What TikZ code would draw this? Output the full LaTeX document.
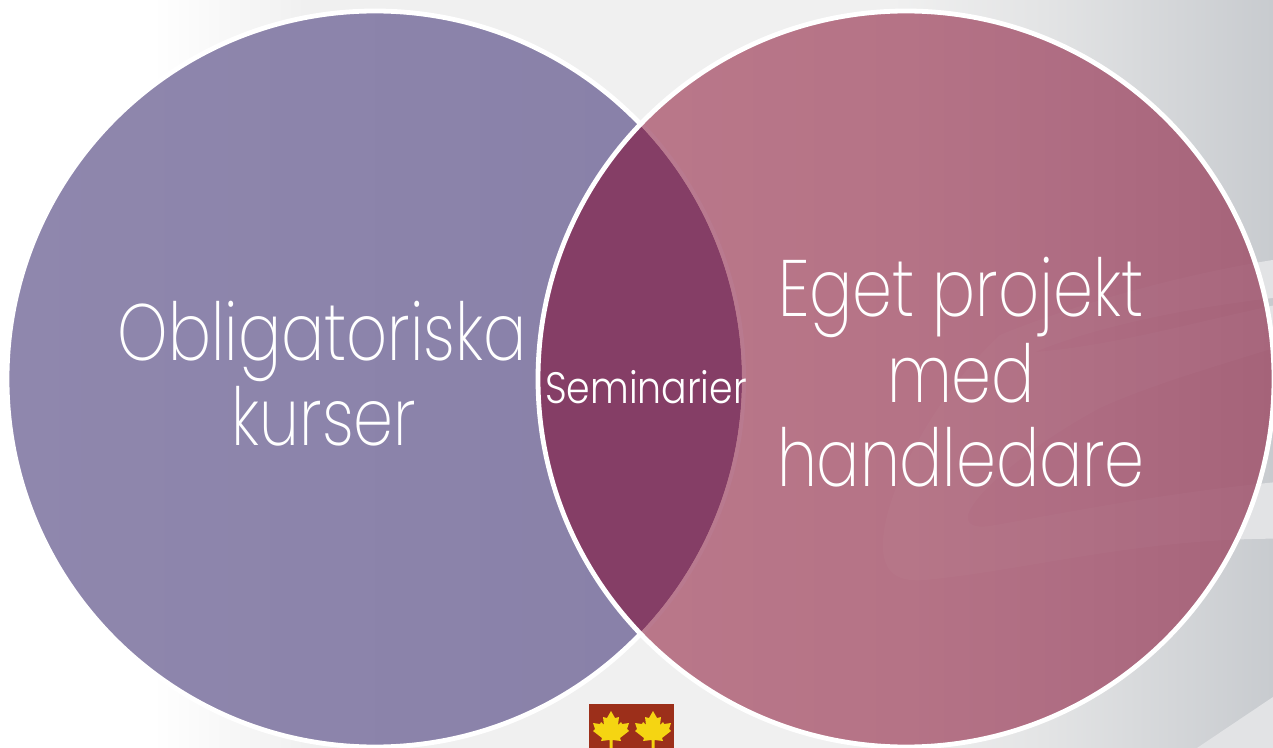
\documentclass[tikz,border=0pt]{standalone}
\usepackage{fontspec}
\setmainfont{Poppins ExtraLight}[FakeStretch=0.8]
\newfontfamily\semfont{Poppins Light}[FakeStretch=0.86]
\usetikzlibrary{shapes.geometric}
\definecolor{inter}{HTML}{853E66}
\definecolor{interband}{HTML}{B97A8F}
\definecolor{swoosh}{HTML}{E2E3E5}
\definecolor{logored}{HTML}{9C2F1A}
\definecolor{logoyel}{HTML}{F5D512}
\definecolor{bgA}{HTML}{F0F0F0}
\definecolor{bgB}{HTML}{E3E4E5}
\definecolor{bgC}{HTML}{C8CBCF}
\definecolor{lA}{HTML}{8F87AD}
\definecolor{lB}{HTML}{8880A8}
\definecolor{rA}{HTML}{BB798B}
\definecolor{rB}{HTML}{B57386}
\definecolor{rD}{HTML}{AE6C82}
\definecolor{rC}{HTML}{A56379}
\pgfdeclarehorizontalshading{bgshade}{100bp}{color(0bp)=(white);color(31bp)=(white);color(37bp)=(bgA);color(60bp)=(bgA);color(66bp)=(bgB);color(75bp)=(bgC);color(100bp)=(bgC)}
\pgfdeclarehorizontalshading{lcirc}{100bp}{color(0bp)=(lA);color(25bp)=(lA);color(75bp)=(lB);color(100bp)=(lB)}
\pgfdeclarehorizontalshading{rcirc}{100bp}{color(0bp)=(rA);color(25bp)=(rA);color(50bp)=(rB);color(62bp)=(rD);color(75bp)=(rC);color(100bp)=(rC)}
\tikzset{
  x=0.5pt,y=-0.5pt,
  ring/.style={draw=white,line width=2.4pt},
  bigtext/.style={text=white,font=\fontsize{40}{42.5}\selectfont,align=center,inner sep=0pt},
  smalltext/.style={text=white,font=\semfont\fontsize{22}{24}\selectfont,inner sep=0pt},
}
\newcommand{\swooshshape}{
  (1300,256) .. controls (1180,272) and (1060,310) .. (1000,335)
  .. controls (930,400) and (880,500) .. (883,550)
  .. controls (885,575) and (900,582) .. (925,580)
  .. controls (1030,570) and (1150,535) .. (1300,539) -- cycle
  (1300,295) .. controls (1200,305) and (1100,325) .. (1035,352)
  .. controls (1120,345) and (1200,320) .. (1300,300) -- cycle
  (1300,340) .. controls (1220,365) and (1150,385) .. (1100,408)
  .. controls (1040,440) and (975,490) .. (968,515)
  .. controls (966,525) and (975,528) .. (990,526)
  .. controls (1080,510) and (1180,490) .. (1300,480) -- cycle
}
\newcommand{\mapleleaf}[1]{
  \fill[logoyel,shift={(#1,728)}]
    (0,-17) -- (4,-10) -- (8,-11) -- (7,-3) -- (10,-6) -- (11,-4) -- (18,-5)
    -- (16,1) -- (18,3) -- (9,10) -- (10,13) -- (1.5,12) -- (1.5,20) -- (-1.5,20) -- (-1.5,12)
    -- (-10,13) -- (-9,10) -- (-18,3) -- (-16,1) -- (-18,-5) -- (-11,-4) -- (-10,-6)
    -- (-7,-3) -- (-8,-11) -- (-4,-10) -- cycle;
}
\begin{document}
\begin{tikzpicture}
\useasboundingbox (0,0) rectangle (1273,748);
\begin{scope}
\clip (0,0) rectangle (1273,748);
\shade[shading=bgshade] (0,0) rectangle (1273,748);
\fill[swoosh,even odd rule] \swooshshape;
\fill[swoosh] (1197,748) -- (1273,697) -- (1273,748) -- cycle;
\end{scope}
% left circle
\shade[shading=lcirc] (375,379) circle[radius=368];
\draw[ring] (375,379) circle[radius=368];
% right circle
\shade[shading=rcirc] (906,379) circle[radius=368];
\begin{scope}
\clip (906,379) circle[radius=368];
\fill[white,opacity=0.025,even odd rule] \swooshshape;
\fill[inter] (375,379) circle[radius=367];
\draw[interband,line width=2pt] (375,379) circle[radius=369];
\end{scope}
\draw[ring] (906,379) circle[radius=368];
% labels
\node[bigtext,anchor=base] (oblig) at (322,360) {Obligatoriska};
\node[bigtext,anchor=base] (kurser) at (324,445) {kurser};
\node[bigtext,anchor=base] (eget) at (961,317) {Eget projekt};
\node[bigtext,anchor=base] (med) at (961,402) {med};
\node[bigtext,anchor=base] (handl) at (961,486) {handledare};
\node[smalltext,anchor=base] (sem) at (646,403) {Seminarier};
% logo
\begin{scope}
\clip (0,0) rectangle (1273,748);
\fill[logored] (589,704) rectangle (674,748);
\mapleleaf{611}
\mapleleaf{653}
\end{scope}
\end{tikzpicture}
\end{document}
